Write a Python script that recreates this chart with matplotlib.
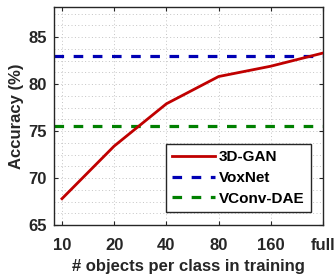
import numpy as np
import matplotlib
matplotlib.use('Agg')
import matplotlib.pyplot as plt
from matplotlib.ticker import MultipleLocator

plt.rcParams['font.family'] = ['Liberation Sans', 'DejaVu Sans']
plt.rcParams['font.weight'] = 'bold'

xlabels = ['10', '20', '40', '80', '160', 'full']
gan = [67.8, 73.4, 77.9, 80.8, 81.9, 83.3]
voxnet = 83.0
vconv = 75.5

dark = '#262626'
fig = plt.figure(figsize=(3.36, 2.76), dpi=100)
ax = fig.add_axes([54/336, 1 - 225/276, 269/336, 218/276])

x = np.arange(len(xlabels))
ax.plot(x, gan, color='#c00000', lw=2, label='3D-GAN', zorder=3)
ax.axhline(voxnet, color='#0000b4', lw=2.3, ls=(0, (3, 3)), label='VoxNet')
ax.axhline(vconv, color='#008000', lw=2.3, ls=(0, (3, 3)), label='VConv-DAE')

ax.set_xlim(-0.153, 5)
ax.set_ylim(65, 88.2)
ax.set_xticks(x)
ax.set_xticklabels(xlabels)
ax.set_yticks([65, 70, 75, 80, 85])
ax.yaxis.set_minor_locator(MultipleLocator(1.25))
ax.grid(True, which='major', ls=(0, (1, 2.5)), color='#c4c4c4', lw=0.7)
ax.grid(True, which='minor', axis='y', ls=(0, (1, 2.5)), color='#c4c4c4', lw=0.7)
ax.tick_params(which='both', direction='in', top=True, right=True, labelsize=12,
               colors=dark, length=3)
ax.tick_params(axis='x', pad=9)
ax.tick_params(axis='y', pad=5)
ax.tick_params(which='minor', length=0)
for s in ax.spines.values():
    s.set_color(dark)
    s.set_linewidth(1)

ax.set_xlabel('# objects per class in training', fontsize=12, color=dark, fontweight='bold', labelpad=5)
ax.set_ylabel('Accuracy (%)', fontsize=12, color=dark, fontweight='bold', labelpad=3)

leg = ax.legend(loc='lower right', bbox_to_anchor=(0.955, 0.06), fontsize=11, fancybox=False,
                framealpha=1, edgecolor=dark, handlelength=2.8, borderpad=0.4,
                labelspacing=0.45, handletextpad=0.3, borderaxespad=0)
leg.get_frame().set_linewidth(1)
for t in leg.get_texts():
    t.set_fontweight('bold')

fig.savefig('out.png', dpi=100)
